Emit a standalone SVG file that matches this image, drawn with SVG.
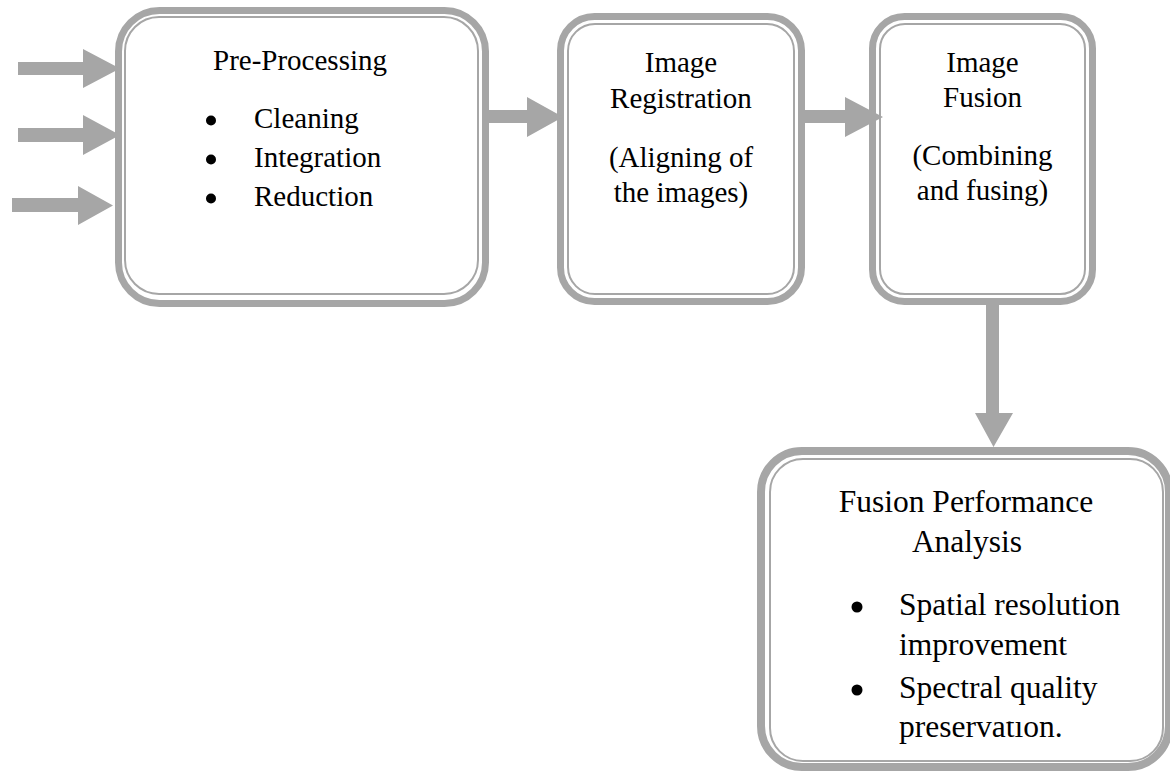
<svg xmlns="http://www.w3.org/2000/svg" width="1170" height="771" viewBox="0 0 1170 771">
  <defs>
    <style>
      .band { fill: none; stroke: #a6a6a6; stroke-width: 7; }
      .line { fill: none; stroke: #a6a6a6; stroke-width: 2; }
      .txt { font-family: "Liberation Serif", "Times New Roman", serif; font-size: 29px; fill: #000; }
      .big { font-size: 31.5px; }
      .mid { text-anchor: middle; }
      .arrow { fill: #a6a6a6; stroke: none; }
      .dot { fill: #000; }
    </style>
    <clipPath id="lastLineClip">
      <rect x="880" y="721.5" width="290" height="49.5"/>
    </clipPath>
  </defs>
  <rect width="1170" height="771" fill="#fff"/>

  <!-- Pre-processing -->
  <g id="node-preprocessing">
    <rect class="band" x="118.5" y="10.5" width="367" height="293" rx="41" ry="41"/>
    <rect class="line" x="125" y="17" width="353" height="277" rx="34" ry="34"/>
    <text class="txt mid" x="300" y="70">Pre-Processing</text>
    <circle class="dot" cx="211" cy="120.5" r="5"/>
    <circle class="dot" cx="211" cy="159.5" r="5"/>
    <circle class="dot" cx="211" cy="198.5" r="5"/>
    <text class="txt" x="254" y="128">Cleaning</text>
    <text class="txt" x="254" y="167">Integration</text>
    <text class="txt" x="254" y="206">Reduction</text>
  </g>

  <!-- Image registration -->
  <g id="node-registration">
    <rect class="band" x="560.5" y="16.5" width="241" height="285" rx="34" ry="34"/>
    <rect class="line" x="568" y="24" width="226" height="270" rx="27" ry="27"/>
    <text class="txt mid" x="681" y="72">Image</text>
    <text class="txt mid" x="681" y="108">Registration</text>
    <text class="txt mid" x="681" y="167">(Aligning of</text>
    <text class="txt mid" x="681" y="202">the images)</text>
  </g>

  <!-- Image fusion -->
  <g id="node-fusion">
    <rect class="band" x="872.5" y="16.5" width="220" height="285" rx="32" ry="32"/>
    <rect class="line" x="880" y="24" width="205" height="270" rx="25" ry="25"/>
    <text class="txt mid" x="982.5" y="72">Image</text>
    <text class="txt mid" x="982.5" y="107">Fusion</text>
    <text class="txt mid" x="982.5" y="165">(Combining</text>
    <text class="txt mid" x="982.5" y="200">and fusing)</text>
  </g>

  <!-- Performance analysis -->
  <g id="node-analysis">
    <rect class="band" x="761" y="451" width="408" height="316" rx="41" ry="41" style="stroke-width:8"/>
    <rect class="line" x="770" y="459" width="393" height="302" rx="33" ry="33"/>
    <text class="txt big mid" x="966" y="512">Fusion Performance</text>
    <text class="txt big mid" x="967" y="552">Analysis</text>
    <circle class="dot" cx="857" cy="607" r="5.5"/>
    <circle class="dot" cx="857" cy="690" r="5.5"/>
    <text class="txt big" x="899" y="615">Spatial resolution</text>
    <text class="txt big" x="899" y="655">improvement</text>
    <text class="txt big" x="899" y="698">Spectral quality</text>
    <text class="txt big" x="899" y="737" clip-path="url(#lastLineClip)">preservation.</text>
  </g>

  <!-- Block arrows between stages -->
  <g id="connectors">
    <polygon class="arrow" points="18,62 83,62 83,49 120,68.5 83,88 83,75 18,75"/>
    <polygon class="arrow" points="18,128 83,128 83,115 120,135 83,155 83,142 18,142"/>
    <polygon class="arrow" points="12,198 78,198 78,186 113,205.5 78,225 78,212 12,212"/>
    <polygon class="arrow" points="489,110 527,110 527,97 563,117 527,137 527,123 489,123"/>
    <polygon class="arrow" points="805,110 845,110 845,97 883,117 845,137 845,123 805,123"/>
    <polygon class="arrow" points="986,305 999,305 999,413 1013,413 993.5,447 975,413 986,413"/>
  </g>
</svg>
